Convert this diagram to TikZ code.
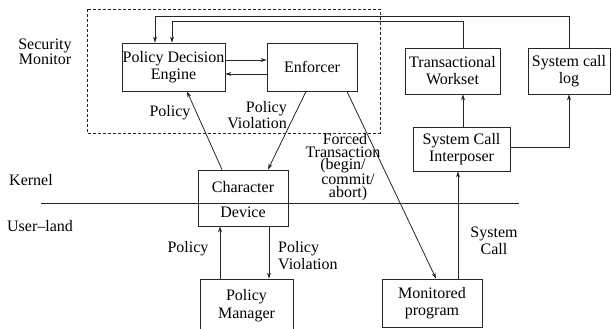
\documentclass[tikz,border=0pt]{standalone}
\usepackage{fontspec}
\setmainfont{Liberation Serif}
\usetikzlibrary{arrows.meta}
\begin{document}
\begin{tikzpicture}[x=1pt,y=-1pt,
  box/.style={draw=black!85,line width=0.9pt,inner sep=0pt,align=center,
    font=\fontsize{16}{17}\selectfont},
  lbl/.style={inner sep=0pt,font=\fontsize{16}{17}\selectfont},
  conn/.style={draw=black!85,line width=0.8pt},
  arr/.style={conn,-{Stealth[length=6pt,width=4pt]}}]
\useasboundingbox (0,0) rectangle (611,329);
% dashed security monitor region
\draw[black!85,line width=0.8pt,dash pattern=on 3pt off 2pt] (87,9) rectangle (380,133);
% kernel / user-land line
\coordinate (kl) at (41,203);
\coordinate (kr) at (519,203);
\draw[conn] (kl) -- (kr);
% boxes
\node[box,minimum width=103pt,minimum height=48pt] (pde) at (173.5,67) {Policy Decision\\Engine};
\node[box,minimum width=90pt,minimum height=48pt] (enf) at (312,67) {Enforcer};
\node[box,minimum width=95pt,minimum height=46pt] (ws) at (452.5,71) {Transactional\\Workset};
\node[box,minimum width=82pt,minimum height=46pt] (log) at (569,71) {System call\\log};
\node[box,minimum width=97pt,minimum height=44pt] (ip) at (461.5,149) {System Call\\Interposer};
\node[box,minimum width=90pt,minimum height=56pt] (cd) at (243,198) {};
\node[lbl] (cdt) at (243,187) {Character};
\node[lbl] (cdb) at (243,212) {Device};
\node[box,minimum width=93pt,minimum height=54pt,font=\fontsize{16}{18}\selectfont] (pm) at (246.5,306) {Policy\\Manager};
\node[box,minimum width=100pt,minimum height=48pt] (mon) at (432,303) {Monitored\\program};
% side labels
\node[lbl,align=center,font=\fontsize{16}{14}\selectfont] (sm) at (45,52) {Security\\Monitor};
\node[lbl] (kern) at (31,180) {Kernel};
\node[lbl] (ul) at (40,226) {User\textendash land};
% connector labels
\node[lbl] (l1) at (170,113) {Policy};
\node[lbl,align=right,anchor=east,font=\fontsize{16}{14}\selectfont] (l2) at (287,115) {Policy\\Violation};
\node[lbl,align=center,font=\fontsize{16}{12.6}\selectfont] (l3) at (343,167) {\hspace*{4pt}Forced\\Transaction\hspace*{4pt}\\(begin/\\\hspace*{10pt}commit/\\\hspace*{10pt}abort)};
\node[lbl,align=center,font=\fontsize{16}{17.5}\selectfont] (l4) at (494,241) {System\\Call};
\node[lbl] (l5) at (188,249) {Policy};
\node[lbl,align=left,anchor=west,font=\fontsize{16}{17}\selectfont] (l6) at (278,256) {Policy\\Violation};
% connectors
\coordinate (t1) at (0,16);
\coordinate (t2) at (0,21);
\draw[arr] ([yshift=7pt]pde.east) -- ([yshift=7pt]enf.west);
\draw[arr] ([yshift=-7pt]enf.west) -- ([yshift=-7pt]pde.east);
\draw[arr] (log.north) -- (log.north |- t1) -| ([xshift=-18.5pt]pde.north);
\draw[arr] ([xshift=10.5pt]ws.north) -- ([xshift=10.5pt]ws.north |- t2) -| ([xshift=-1.5pt]pde.north);
\draw[arr] ([xshift=1.5pt]ip.north) -- ([xshift=1.5pt]ip.north |- ws.south);
\draw[arr] ([yshift=2pt]ip.east) -| (log.south);
\draw[arr] ([xshift=26pt]mon.north) -- ([xshift=26pt]mon.north |- ip.south);
\draw[arr] ([xshift=-6pt]enf.south) -- ([xshift=25pt]cd.north);
\draw[arr] ([xshift=-21pt]cd.north) -- ([xshift=13.5pt]pde.south);
\draw[arr] ([xshift=35pt]enf.south) -- ([xshift=4pt]mon.north);
\draw[arr] ([xshift=-26.5pt]pm.north) -- ([xshift=-26.5pt]pm.north |- cd.south);
\draw[arr] ([xshift=22.5pt]pm.north |- cd.south) -- ([xshift=22.5pt]pm.north);
\end{tikzpicture}
\end{document}
